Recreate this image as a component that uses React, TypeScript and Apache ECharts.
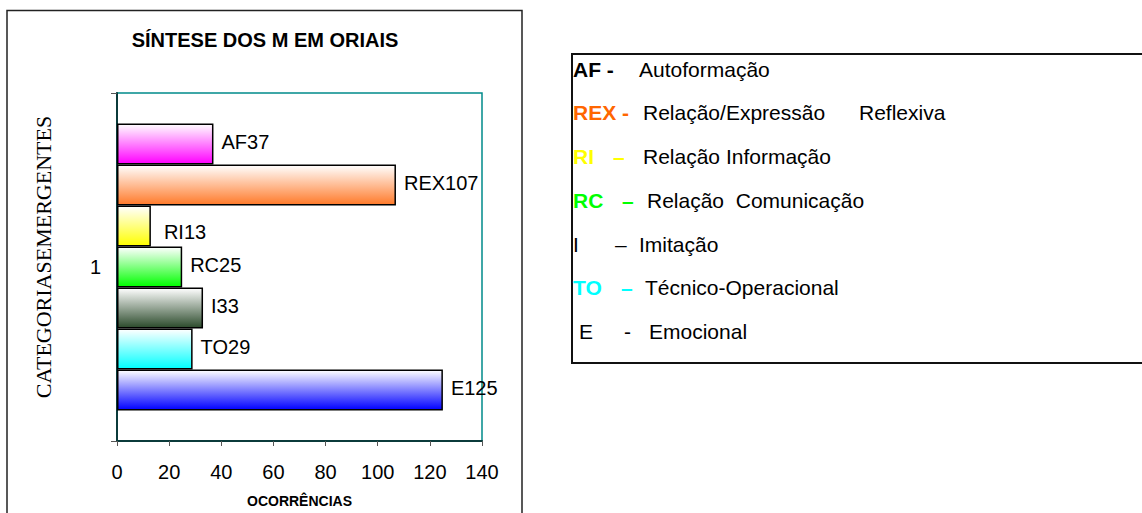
import React, { useEffect, useRef } from "react";
import * as echarts from "echarts";

// ---- data ----
const categories = ["1"];
const seriesNames = ["AF", "REX", "RI", "RC", "I", "TO", "E"];
const seriesValues = [37, 107, 13, 25, 33, 29, 125];
const seriesColors = ["#ff00ff", "#ff7a2a", "#ffff00", "#00ff00", "#2b4a2b", "#00ffff", "#0000ff"];
const xTicks = { min: 0, max: 140, interval: 20 };

const titleText = "SÍNTESE DOS M EM ORIAIS";
const yAxisName = "CATEGORIASEMERGENTES";
const xAxisName = "OCORRÊNCIAS";

const legendCodes = ["AF -", "REX -", "RI", "RC", "I", "TO", "E"];
const legendDashes = ["", "", "–", "–", "–", "–", "-"];
const legendDescs = [
  "Autoformação",
  "Relação/Expressão",
  "Relação Informação",
  "Relação  Comunicação",
  "Imitação",
  "Técnico-Operacional",
  "Emocional",
];
const legendExtra = "Reflexiva";
const legendCodeColors = ["#000000", "#ff6600", "#ffff00", "#00ff00", "#000000", "#00ffff", "#000000"];
const legendCodeBold = [true, true, true, true, false, true, false];

// ---- layout (positions only) ----
const legendRowY = [69, 112, 156, 200, 244, 287, 331];
const legendCodeX = [573, 573, 573, 573, 573, 573, 579];
const legendDashX = [0, 0, 613, 622, 615, 621, 624];
const legendDescX = [639, 643, 643, 647, 639, 645, 649];
const legendExtraX = 859;

const SANS = "'Liberation Sans', Arial, sans-serif";
const SERIF = "'Liberation Serif', 'Times New Roman', serif";

export default function App() {
  const ref = useRef<HTMLDivElement>(null);

  useEffect(() => {
    if (!ref.current) return;
    const chart = echarts.init(ref.current, null, { renderer: "svg" });

    const series = seriesNames.map((name, i) => ({
      name,
      type: "bar",
      data: [seriesValues[i]],
      barGap: "0%",
      barCategoryGap: "17.5%",
      itemStyle: {
        color: new echarts.graphic.LinearGradient(0, 0, 0, 1, [
          { offset: 0, color: "#ffffff" },
          { offset: 1, color: seriesColors[i] },
        ]),
        borderColor: "#000000",
        borderWidth: 1.5,
      },
      label: {
        show: true,
        position: "right",
        distance: 7,
        offset: name === "RI" ? [6, 6] : [1, -2],
        formatter: (p: any) => `${p.seriesName}${p.value}`,
        color: "#000",
        fontSize: 20,
        fontFamily: SANS,
      },
    }));

    const graphics: any[] = [
      {
        type: "rect",
        shape: { x: 7, y: 10.5, width: 515, height: 520 },
        style: { fill: "none", stroke: "#222", lineWidth: 1.5 },
        silent: true,
        z: -10,
      },
      {
        type: "text",
        x: 265,
        y: 40,
        style: {
          text: titleText,
          fontSize: 20,
          fontWeight: "bold",
          fontFamily: SANS,
          fill: "#000",
          align: "center",
          verticalAlign: "middle",
        },
      },
      {
        type: "text",
        x: 43,
        y: 257,
        rotation: Math.PI / 2,
        style: {
          text: yAxisName,
          fontSize: 22,
          fontFamily: SERIF,
          fill: "#000",
          align: "center",
          verticalAlign: "middle",
        },
      },
      {
        type: "rect",
        shape: { x: 572, y: 54, width: 620, height: 309 },
        style: { fill: "none", stroke: "#111", lineWidth: 2 },
        silent: true,
      },
    ];

    legendCodes.forEach((code, i) => {
      graphics.push({
        type: "text",
        x: legendCodeX[i],
        y: legendRowY[i],
        style: {
          text: code,
          fontSize: 21,
          fontWeight: legendCodeBold[i] ? "bold" : "normal",
          fontFamily: SANS,
          fill: legendCodeColors[i],
          align: "left",
          verticalAlign: "middle",
        },
      });
      if (legendDashes[i]) {
        graphics.push({
          type: "text",
          x: legendDashX[i],
          y: legendRowY[i],
          style: {
            text: legendDashes[i],
            fontSize: 21,
            fontWeight: legendCodeBold[i] ? "bold" : "normal",
            fontFamily: SANS,
            fill: legendCodeColors[i],
            align: "left",
            verticalAlign: "middle",
          },
        });
      }
      graphics.push({
        type: "text",
        x: legendDescX[i],
        y: legendRowY[i],
        style: {
          text: legendDescs[i],
          fontSize: 21,
          fontFamily: SANS,
          fill: "#000",
          align: "left",
          verticalAlign: "middle",
        },
      });
    });
    graphics.push({
      type: "text",
      x: legendExtraX,
      y: legendRowY[1],
      style: {
        text: legendExtra,
        fontSize: 21,
        fontFamily: SANS,
        fill: "#000",
        align: "left",
        verticalAlign: "middle",
      },
    });

    chart.setOption({
      animation: false,
      backgroundColor: "#ffffff",
      grid: {
        left: 117,
        top: 93,
        width: 365,
        height: 350,
        show: true,
        borderColor: "#008b8b",
        borderWidth: 1.5,
        backgroundColor: "transparent",
        containLabel: false,
      },
      xAxis: {
        type: "value",
        min: xTicks.min,
        max: xTicks.max,
        interval: xTicks.interval,
        name: xAxisName,
        nameLocation: "middle",
        nameGap: 53,
        nameTextStyle: {
          fontSize: 14,
          fontWeight: "bold",
          fontFamily: SANS,
          color: "#000",
        },
        axisLine: { show: true, lineStyle: { color: "#0b3b3b", width: 2 } },
        axisTick: { show: true, length: 5, lineStyle: { color: "#555" } },
        splitLine: { show: false },
        axisLabel: { fontSize: 20, color: "#000", margin: 21, fontFamily: SANS },
      },
      yAxis: {
        type: "category",
        data: categories,
        axisLine: { show: true, lineStyle: { color: "#0b3b3b", width: 2 } },
        axisTick: { show: true, length: 6, lineStyle: { color: "#555" } },
        axisLabel: { fontSize: 20, color: "#000", margin: 16, fontFamily: SANS },
      },
      series,
      graphic: graphics,
    });

    return () => chart.dispose();
  }, []);

  return (
    <div
      ref={ref}
      style={{ position: "fixed", left: 0, top: 0, width: 1142, height: 513 }}
    />
  );
}
